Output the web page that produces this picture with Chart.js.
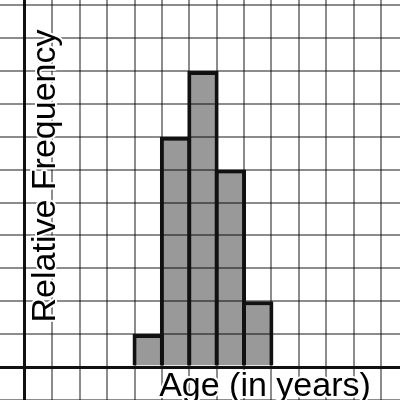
<!DOCTYPE html>
<html>
<head>
<meta charset="utf-8">
<script src="https://cdn.jsdelivr.net/npm/chart.js@4.4.0/dist/chart.umd.min.js"></script>
<style>
  body { margin: 0; background: #fff; }
  #wrap { width: 400px; height: 400px; position: relative; }
</style>
</head>
<body>
<div id="wrap"><canvas id="chart"></canvas></div>
<script>
// histogram bins (age, start of each 1-year bin) and relative frequency
const binStarts = [4, 5, 6, 7, 8];
const frequencies = [1, 7, 9, 6, 2];

const xTitle = "Age (in years)";
const yTitle = "Relative Frequency";

const points = binStarts.map((b, i) => ({ x: b + 0.5, y: frequencies[i] }));

const gridColor = "rgba(0,0,0,0.45)";

function gridLine(ctx) {
    return ctx.tick && ctx.tick.value === 0 ? "#111" : gridColor;
}
function gridWidth(ctx) {
    return ctx.tick && ctx.tick.value === 0 ? 3 : 2;
}
// one grid line per whole unit, like graph paper
function integerTicks(axis) {
    const ticks = [];
    for (let v = Math.ceil(axis.min); v <= Math.floor(axis.max); v++) {
        ticks.push({ value: v });
    }
    axis.ticks = ticks;
}

const titlesPlugin = {
    id: "titles",
    afterDraw(chart) {
        const ctx = chart.ctx;
        ctx.save();
        ctx.font = "34px 'Liberation Sans', Arial, sans-serif";
        ctx.fillStyle = "#000";
        ctx.strokeStyle = "#fff";
        ctx.lineWidth = 4;
        ctx.lineJoin = "round";
        ctx.textAlign = "center";
        ctx.textBaseline = "alphabetic";

        ctx.strokeText(xTitle, 265, 396);
        ctx.fillText(xTitle, 265, 396);

        ctx.translate(55, 176);
        ctx.rotate(-Math.PI / 2);
        ctx.strokeText(yTitle, 0, 0);
        ctx.fillText(yTitle, 0, 0);
        ctx.restore();
    }
};

new Chart(document.getElementById("chart"), {
    type: "bar",
    data: {
        datasets: [{
            data: points,
            backgroundColor: "rgba(0,0,0,0.4)",
            borderColor: "#111",
            borderWidth: 4,
            borderSkipped: "start",
            barPercentage: 1.146,
            categoryPercentage: 1
        }]
    },
    options: {
        responsive: true,
        maintainAspectRatio: false,
        animation: false,
        layout: { padding: 0 },
        plugins: {
            legend: { display: false },
            tooltip: { enabled: false }
        },
        scales: {
            x: {
                type: "linear",
                min: -0.913,
                max: 13.696,
                offset: false,
                ticks: { display: false },
                grid: { color: gridLine, lineWidth: gridWidth, drawTicks: false, offset: false },
                border: { display: false },
                afterBuildTicks: integerTicks
            },
            y: {
                min: -1.003,
                max: 11.155,
                ticks: { display: false },
                grid: { color: gridLine, lineWidth: gridWidth, drawTicks: false },
                border: { display: false },
                afterBuildTicks: integerTicks
            }
        }
    },
    plugins: [titlesPlugin]
});
</script>
</body>
</html>
